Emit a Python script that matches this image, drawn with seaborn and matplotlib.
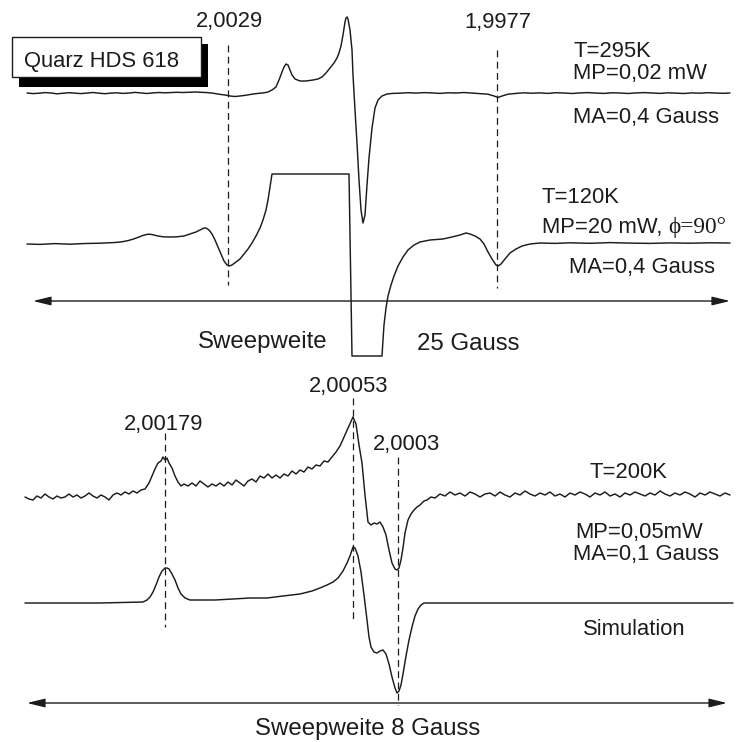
import numpy as np
import pandas as pd
import seaborn as sns
import matplotlib.pyplot as plt
from matplotlib.patches import Rectangle

# ---------------------------------------------------------------
# Spectra, given as (field position, signal) pairs on the drawing grid
# ---------------------------------------------------------------

# T = 295 K, MP = 0.02 mW
field_295 = [27, 33, 39, 45, 51, 57, 63, 69, 75, 81, 87, 93, 99, 105, 111, 117, 123, 129, 135,
             141, 147, 153, 159, 165, 171, 177, 183, 189, 195, 201, 207, 213, 219, 225, 230,
             235, 240, 246, 252, 258, 264, 268, 272, 276, 279, 282, 284, 286, 288, 290, 292,
             295, 300, 306, 313, 318, 322, 326, 330, 334, 337, 339, 341, 343, 345, 346, 347,
             348, 350, 352, 353, 355, 357, 359, 361, 363, 365, 367, 369, 372, 375, 378, 382,
             387, 393, 400, 408, 416, 424, 432, 440, 448, 456, 464, 472, 480, 488, 494, 498,
             502, 508, 516, 524, 532, 540, 548, 556, 564, 572, 580, 588, 596, 604, 612, 620,
             628, 636, 644, 652, 660, 668, 676, 684, 692, 700, 708, 716, 724, 730]
signal_295 = [93.0, 93.6, 93.2, 92.6, 93.0, 93.8, 93.3, 92.7, 93.1, 93.6, 93.0, 92.5, 93.2,
              93.7, 93.1, 92.8, 93.4, 93.0, 92.4, 93.0, 93.5, 92.9, 92.5, 92.8, 92.6, 92.3,
              92.5, 92.2, 92.0, 92.3, 92.6, 93.2, 94.2, 95.0, 96.0,
              96.5, 96.0, 95.2, 94.2, 93.4, 92.8, 92.0, 90, 87, 80, 72, 67, 64, 65, 70, 75,
              79, 81, 81, 80, 79, 77, 73, 68, 63, 58, 53, 46, 35, 22, 18, 17,
              19, 30, 50, 75, 110, 143, 180, 210, 223, 215, 185, 158, 128, 108, 100, 96,
              94, 93.4, 93.2, 92.7, 93.1, 92.6, 92.9, 93.4, 92.8, 93.0, 92.5, 93.1, 93.6, 94.2,
              96.0, 97.5, 96.0, 94.2, 93.4, 92.8, 93.2, 92.9, 93.4, 92.7, 93.0, 93.5, 92.9, 92.6,
              93.1, 93.4, 92.8, 93.0, 93.5, 92.9, 92.6, 93.0, 93.4, 92.8, 93.1, 93.5, 92.9, 93.2,
              92.7, 93.1, 93.3, 93.0]

# T = 120 K, MP = 20 mW (saturated central line)
field_120 = [27, 40, 55, 70, 85, 100, 115, 122, 128, 133, 138, 143, 148, 152, 157, 163, 170, 177,
             184, 190, 196, 200, 204, 206, 209, 212, 215, 218, 221, 224, 227, 229, 232, 236,
             240, 244, 248, 252, 256, 260, 263, 266, 268, 270, 272, 349, 352, 382, 383, 384,
             386, 388, 391, 394, 398, 403, 408, 414, 420, 430, 443, 452, 460, 466, 470, 475,
             480, 484, 488, 492, 496, 498, 501, 505, 510, 516, 522, 530, 540, 555, 570, 590,
             610, 630, 650, 670, 690, 710, 730]
signal_120 = [244, 244.4, 243.6, 244.2, 243.5, 243.2, 242.5, 241.8, 240.6, 239.2, 237.4, 235.4,
              234.2, 234.5, 235.8, 236.8, 237, 236.8,
              236, 234, 232, 230, 228, 228, 230, 234, 240, 247, 254, 261, 265, 266, 265, 262,
              259, 254, 249, 243, 236, 228, 220, 210, 200, 187, 174, 174, 356, 356, 340, 325,
              308, 296, 285, 276, 266, 257, 250, 245, 242, 240, 239, 237, 235, 233, 234, 236,
              239, 244, 252, 259, 265, 266, 264, 259, 253, 249, 246, 244, 243, 243.4, 242.8, 243.3,
              242.6, 243.1, 243.4, 242.9, 243.2, 242.8, 243]

# T = 200 K, MP = 0.05 mW (measured)
field_200 = [25, 29, 33, 37, 41, 45, 49, 53, 57, 61, 65, 69, 73, 77, 81, 85, 89, 93, 97, 101,
             105, 109, 113, 117, 121, 125, 129, 133, 137, 141, 145, 149, 152, 155, 158, 161,
             163, 165, 167, 169, 172, 175, 178, 181, 184, 188, 192, 196, 200, 204, 208, 212,
             216, 220, 224, 228, 232, 236, 240, 244, 248, 252, 256, 260, 264, 268, 272, 276,
             280, 284, 288, 292, 296, 300, 304, 308, 312, 316, 320, 324, 328, 332, 336, 340,
             344, 348, 351, 353, 356, 359, 362, 365, 368, 371, 374, 377, 380, 383, 386, 389,
             392, 395, 397, 399, 401, 403, 405, 408, 411, 414, 417, 420, 424, 427, 431, 435,
             440, 445, 450, 455, 460, 465, 470, 475, 480, 485, 490, 495, 500, 505, 510, 515,
             520, 525, 530, 535, 540, 545, 550, 555, 560, 565, 570, 575, 580, 585, 590, 595,
             600, 605, 610, 615, 620, 625, 630, 635, 640, 645, 650, 655, 660, 665, 670, 675,
             680, 685, 690, 695, 700, 705, 710, 715, 720, 725, 730]
signal_200 = [497, 499, 500, 496, 498, 494, 497, 499, 496, 498, 497, 494, 497, 495, 498, 496,
              493, 496, 498, 495, 497, 500, 495, 493, 495, 492, 494, 491, 493, 490, 489, 483,
              476, 469, 463, 461, 457, 460, 458, 463, 468, 476, 482, 486, 484, 486, 483, 486,
              481, 484, 487, 484, 486, 483, 486, 482, 485, 480, 483, 486, 481, 479, 482, 476,
              478, 474, 478, 475, 478, 474, 476, 471, 474, 470, 472, 467, 469, 465, 466, 461,
              462, 457, 452, 446, 437, 428, 421, 417, 424, 445, 463, 495, 522, 525, 523, 524,
              522, 527, 535, 550, 563, 569, 570, 568, 560, 548, 533, 520, 514, 510, 507, 505,
              501, 500, 497, 498, 494, 496, 492, 495, 493, 496, 492, 494, 497, 494, 493, 496,
              492, 495, 497, 493, 495, 491, 494, 496, 493, 495, 492, 496, 494, 497, 493, 495,
              492, 494, 497, 493, 495, 492, 496, 494, 497, 493, 495, 492, 494, 496, 493, 495,
              491, 494, 496, 493, 495, 492, 494, 497, 493, 495, 492, 494, 496, 493, 495]

# Simulated spectrum
field_sim = [25, 60, 100, 143, 147, 150, 153, 156, 159, 162, 165, 167, 169, 172, 175, 178, 181,
             185, 190, 200, 215, 233, 250, 267, 283, 300, 312, 320, 327, 333, 338, 343, 347,
             350, 352, 353, 355, 358, 361, 364, 367, 369, 371, 374, 377, 380, 383, 386, 389,
             392, 395, 397, 399, 401, 403, 406, 409, 412, 415, 418, 421, 424, 430, 460, 500,
             560, 620, 680, 733]
signal_sim = [603, 603, 603, 602, 600, 597, 592, 585, 577, 571, 568, 568, 569, 574, 580, 588, 594,
              598, 600, 600, 600, 599, 598, 598, 596, 594, 591, 588, 585, 582, 578, 571, 563,
              556, 550, 547, 548, 556, 572, 595, 620, 637, 647, 652, 653, 651, 650, 654, 664,
              677, 688, 693, 691, 685, 674, 656, 640, 627, 616, 609, 605, 603, 603, 603, 603,
              603, 603, 603, 603]

# g-value markers: (label, position, top, bottom)
g_labels = ["2,0029", "1,9977", "2,00179", "2,00053", "2,0003"]
g_pos = [228, 497, 165, 353, 398]
g_top = [45, 50, 433, 398, 457]
g_bottom = [285, 288, 627, 622, 705]

INK = "#1c1c1c"

sns.set_theme(style="white")
plt.rcParams["font.family"] = ["Liberation Sans", "DejaVu Sans"]

fig = plt.figure(figsize=(7.36, 7.42), dpi=100)
ax = fig.add_axes([0, 0, 1, 1])
ax.set_xlim(0, 736)
ax.set_ylim(742, 0)
ax.axis("off")

frames = [
    ("295K", field_295, signal_295),
    ("120K", field_120, signal_120),
    ("200K", field_200, signal_200),
    ("sim", field_sim, signal_sim),
]
for name, fx, fy in frames:
    df = pd.DataFrame({"field": fx, "signal": fy})
    sns.lineplot(data=df, x="field", y="signal", ax=ax, sort=False, estimator=None,
                 color=INK, lw=1.05)

# dashed g-value markers
for lab, xp, t, b in zip(g_labels, g_pos, g_top, g_bottom):
    ax.plot([xp, xp], [t, b], color=INK, lw=0.9, dashes=(5.5, 3.5))

FS = 15.8
FS_BIG = 17.3
tk = dict(color=INK, fontsize=FS, va="baseline")

ax.text(229, 27, "2,0029", ha="center", **tk)
ax.text(498, 28, "1,9977", ha="center", **tk)
ax.text(164, 430, "2,00179", ha="center", **tk)
ax.text(349, 392, "2,00053", ha="center", **tk)
ax.text(407, 450, "2,0003", ha="center", **tk)

ax.text(573, 57, "T=295K", ha="left", **tk)
ax.text(573, 79, "MP=0,02 mW", ha="left", **tk)
ax.text(573, 123, "MA=0,4 Gauss", ha="left", **tk)

ax.text(542, 203, "T=120K", ha="left", **tk)
t_mp = ax.text(542, 233, "MP=20 mW, ", ha="left", **tk)
ax.annotate("\u03d5=90\u00b0", xycoords=t_mp, xy=(1, 0), va="bottom", ha="left",
            color=INK, fontsize=FS + 1, family=["Liberation Serif", "DejaVu Serif"])
ax.text(569, 273, "MA=0,4 Gauss", ha="left", **tk)

ax.text(590, 478, "T=200K", ha="left", **tk)
ax.text(575, 538, "MP=0,05mW", ha="left", **tk)
ax.text(573, 560, "MA=0,1 Gauss", ha="left", **tk)
ax.text(583, 635, "Simulation", ha="left", **tk)

ax.text(198, 348, "Sweepweite", ha="left", color=INK, fontsize=FS_BIG, va="baseline")
ax.text(417, 350, "25 Gauss", ha="left", color=INK, fontsize=FS_BIG, va="baseline")
ax.text(368, 735, "Sweepweite 8 Gauss", ha="center", color=INK, fontsize=FS_BIG, va="baseline")

# sample label with drop shadow
ax.add_patch(Rectangle((19, 44), 189, 43, facecolor="black", edgecolor="none", zorder=3))
ax.add_patch(Rectangle((12, 37), 189, 40, facecolor="white", edgecolor=INK, lw=1.0, zorder=4))
ax.text(102, 67, "Quarz HDS 618", ha="center", va="baseline", color=INK, fontsize=FS, zorder=5)

# sweep-width arrows
arrow = dict(arrowstyle="<|-|>,head_length=0.9,head_width=0.22", color=INK, lw=1.0,
             shrinkA=0, shrinkB=0)
ax.annotate("", xy=(730, 301), xytext=(33, 301), arrowprops=arrow)
ax.annotate("", xy=(727, 703), xytext=(27, 703), arrowprops=arrow)

fig.savefig("out.png", dpi=100, facecolor="white")
